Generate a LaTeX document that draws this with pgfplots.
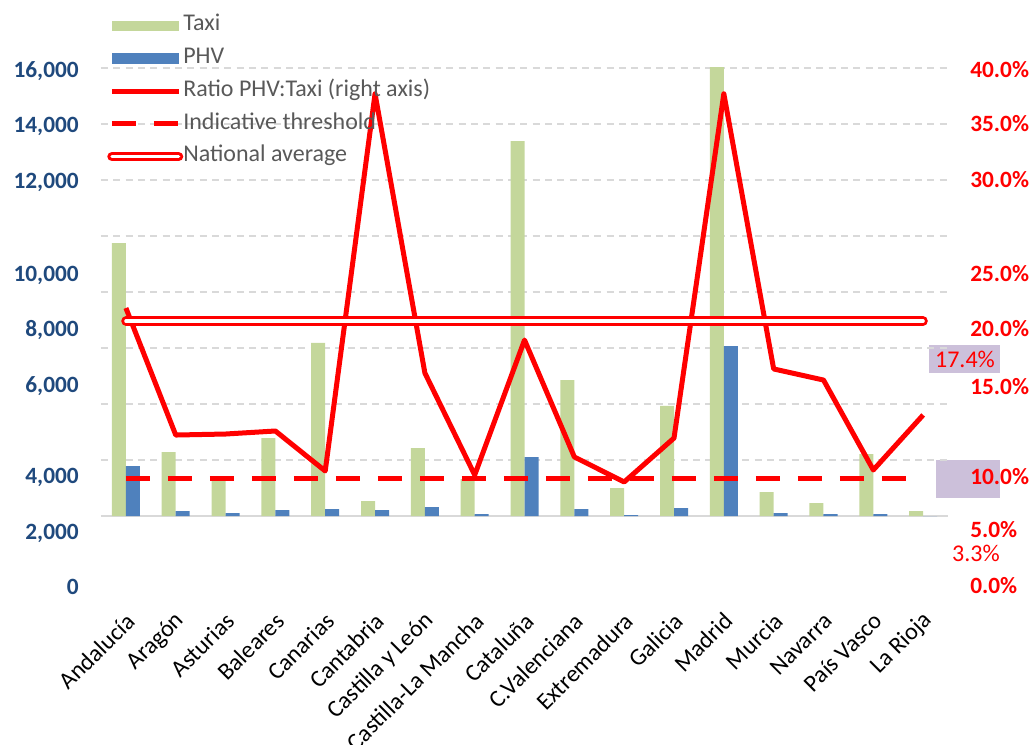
\documentclass[border=0pt]{standalone}
\usepackage{pgfplots}
\pgfplotsset{compat=1.18}
\usepackage{pgfplotstable}
\usepackage{fontspec}
\setmainfont{Carlito}
\definecolor{taxigreen}{HTML}{C4D79B}
\definecolor{phvblue}{HTML}{4F81BD}
\definecolor{leftblue}{HTML}{1F497D}
\definecolor{gridgray}{HTML}{D9D9D9}
\definecolor{legendgray}{HTML}{595959}
\definecolor{boxlav}{HTML}{CCC0DA}

\pgfplotstableread{
idx taxi phv ratio
0 9750 1786 18.57
1 2286 179 7.23
2 1393 107 7.32
3 2786 214 7.59
4 6179 250 4.02
5 536 214 37.7
6 2429 321 12.77
7 1321 71 3.66
8 13393 2107 15.71
9 4857 250 5.27
10 1000 36 3.04
11 3929 286 6.96
12 16036 6071 37.7
13 857 107 13.13
14 464 71 12.14
15 2214 71 4.11
16 179 0 9.02
}\regiondata

\pgfplotsset{
  common/.style={
    scale only axis,
    width=635.3pt, height=401.25pt,
    at={(75.75pt,-446.25pt)}, anchor=south west,
    xmin=-0.5, xmax=16.5,
    axis line style={draw=none},
    major tick length=0pt,
    tick style={draw=none},
    scaled y ticks=false,
  },
}

\begin{document}
\begin{tikzpicture}
\useasboundingbox (0,0) rectangle (774.75pt,-558pt);
\begin{scope}[x=0.75pt,y=-0.75pt]
  \fill[boxlav] (936,460) rectangle (1000,498);
  \fill[boxlav] (929,345) rectangle (1000,373);
  \node[text=red, font=\fontsize{18}{20}\selectfont, inner sep=0pt] at (965,359) {17.4\%};
  \node[text=red, font=\fontsize{18}{20}\selectfont, inner sep=0pt] at (976,553) {3.3\%};
\end{scope}

% left axis: bars
\begin{axis}[common,
  ymin=-2821.4, ymax=16285.7,
  ytick={15928.6,13964.3,11964.3,8642.9,6678.6,4678.6,1428.6,-571.4,-2535.7},
  yticklabels={{16,000},{14,000},{12,000},{10,000},{8,000},{6,000},{4,000},{2,000},{0}},
  yticklabel style={font=\fontsize{17.5}{20}\selectfont\bfseries, text=leftblue,
    anchor=east, inner sep=0pt, xshift=-16.5pt, text height=11pt, text depth=0pt},
  extra y ticks={2000,4000,6000,8000,10000,12000,14000,16000},
  extra y tick labels={},
  extra y tick style={ymajorgrids=true},
  major grid style={gridgray, line width=1.8pt, dash pattern=on 5.25pt off 4pt},
  xtick={0,...,16},
  xticklabels={Andalucía,Aragón,Asturias,Baleares,Canarias,Cantabria,Castilla y León,Castilla-La Mancha,Cataluña,C.Valenciana,Extremadura,Galicia,Madrid,Murcia,Navarra,País Vasco,La Rioja},
  xticklabel style={xshift=3.75pt, yshift=-16.5pt, rotate=45, anchor=east, inner sep=0pt,
    font=\fontsize{18}{20}\selectfont, text=black},
  ybar, bar width=10.5pt,
]
\draw[gridgray, line width=1.8pt] (axis cs:-0.5,0) -- (axis cs:16.5,0);
\addplot[ybar, bar shift=-5.25pt, fill=taxigreen, draw=none] table[x=idx,y=taxi]{\regiondata};
\addplot[ybar, bar shift=5.25pt, fill=phvblue, draw=none] table[x=idx,y=phv]{\regiondata};
\end{axis}

% right axis: ratio lines
\begin{axis}[common,
  ymin=-7.054, ymax=40.714,
  ytick={39.82,35,30,21.61,16.70,11.52,3.48,-1.25,-6.25},
  yticklabels={{40.0\%},{35.0\%},{30.0\%},{25.0\%},{20.0\%},{15.0\%},{10.0\%},{5.0\%},{0.0\%}},
  yticklabel pos=right,
  yticklabel style={font=\fontsize{17.5}{20}\selectfont\bfseries, text=red,
    anchor=west, inner sep=0pt, xshift=16.5pt, text height=11pt, text depth=0pt},
  xtick=\empty,
  legend image code/.code={\draw[#1] (0pt,0pt) -- (50pt,0pt);},
  legend style={draw=none, fill=none, inner sep=0pt,
    at={(0.0071,1.085)}, anchor=north west,
    font=\fontsize{18}{20}\selectfont, text=legendgray,
    nodes={inner sep=0pt, text height=12pt, text depth=4pt},
    row sep=8.6pt,
    /tikz/every even column/.append style={column sep=5.25pt}},
  legend cell align=left,
]
\addlegendimage{legend image code/.code={\fill[taxigreen] (0pt,-3.5pt) rectangle (50pt,3.5pt);}}
\addlegendentry{Taxi}
\addlegendimage{legend image code/.code={\fill[phvblue] (0pt,-3.5pt) rectangle (50pt,3.5pt);}}
\addlegendentry{PHV}
\addplot[red, line width=3.75pt, line join=round] table[x=idx,y=ratio]{\regiondata};
\addlegendentry{Ratio PHV:Taxi (right axis)}
\addplot[red, line width=3.75pt, dash pattern=on 18pt off 13.5pt] coordinates {(0,3.39) (16,3.39)};
\addlegendentry{Indicative threshold}
\addplot[red, line width=2.25pt, double=white, double distance=2.5pt, line cap=round] coordinates {(0,17.4) (16,17.4)};
\addlegendentry{National average}
\end{axis}
\end{tikzpicture}
\end{document}
